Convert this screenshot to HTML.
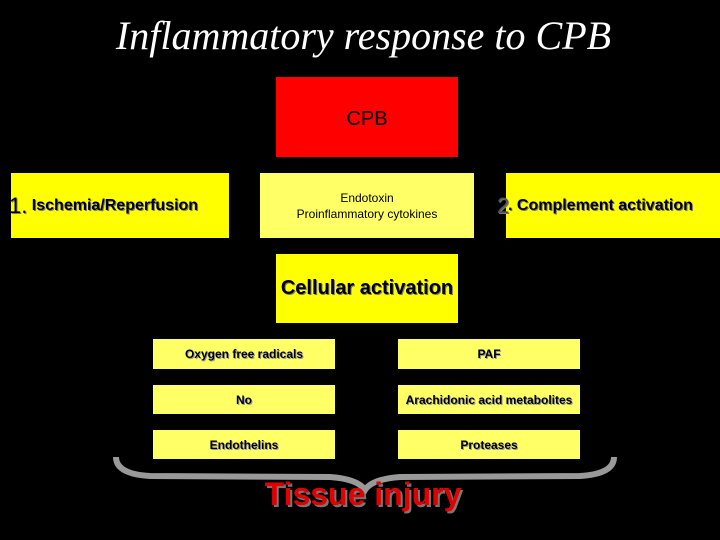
<!DOCTYPE html>
<html><head><style>
body{margin:0;width:720px;height:540px;background:#000;position:relative;overflow:hidden;font-family:"Liberation Sans",sans-serif}
.b{position:absolute;display:flex;align-items:center;justify-content:center;text-align:center;color:#000;white-space:nowrap;overflow:hidden}
.y{background:#ffff00}.ly{background:#ffff66}
.s{font-weight:bold;font-size:12px;text-shadow:1px 1px 0 #999}
</style></head><body>
<div style="position:absolute;left:0;top:12px;width:727px;text-align:center;color:#fff;font-family:'Liberation Serif',serif;font-style:italic;font-size:40px">Inflammatory response to CPB</div>
<div class="b" style="left:276px;top:77px;width:182px;height:80px;background:#ff0000;font-size:20px;padding-top:4px;box-sizing:border-box">CPB</div>
<div class="b y" style="left:11px;top:173px;width:218px;height:65px;justify-content:flex-start;font-weight:bold;font-size:16px;text-shadow:1px 1px 0 #777"><span style="margin-left:-2px;font-size:22px;font-weight:normal">1.</span>&nbsp;Ischemia/Reperfusion</div>
<div class="b ly" style="left:260px;top:173px;width:214px;height:65px;font-size:12px;line-height:16px">Endotoxin<br>Proinflammatory cytokines</div>
<div class="b y" style="left:506px;top:173px;width:214px;height:65px;justify-content:flex-start;font-weight:bold;font-size:16px;text-shadow:1px 1px 0 #777;overflow:visible"><span style="position:absolute;left:-9px;font-size:22px;font-weight:normal;color:#555">2</span><span style="margin-left:2px">. Complement activation</span></div>
<div class="b y" style="left:276px;top:254px;width:182px;height:69px;font-size:20px;font-weight:bold;text-shadow:1px 1px 0 #777;overflow:visible">Cellular activation</div>
<div class="b ly s" style="left:153px;top:339px;width:182px;height:30px">Oxygen free radicals</div>
<div class="b ly s" style="left:398px;top:339px;width:182px;height:30px">PAF</div>
<div class="b ly s" style="left:153px;top:385px;width:182px;height:29px">No</div>
<div class="b ly s" style="left:398px;top:385px;width:182px;height:29px;overflow:visible">Arachidonic acid metabolites</div>
<div class="b ly s" style="left:153px;top:430px;width:182px;height:29px">Endothelins</div>
<div class="b ly s" style="left:398px;top:430px;width:182px;height:29px">Proteases</div>
<svg style="position:absolute;left:0;top:0" width="720" height="540">
<path d="M116 457 Q116 474 150 476 L330 477 Q358 479 365 490 Q372 479 400 477 L580 476 Q614 474 614 457" fill="none" stroke="#999" stroke-width="6"/>
</svg>
<div style="position:absolute;left:0;top:476px;width:720px;text-align:center;padding-left:3px;color:#e00000;font-weight:bold;font-size:32px;text-shadow:2px 2px 0 #777">Tissue injury</div>
</body></html>
